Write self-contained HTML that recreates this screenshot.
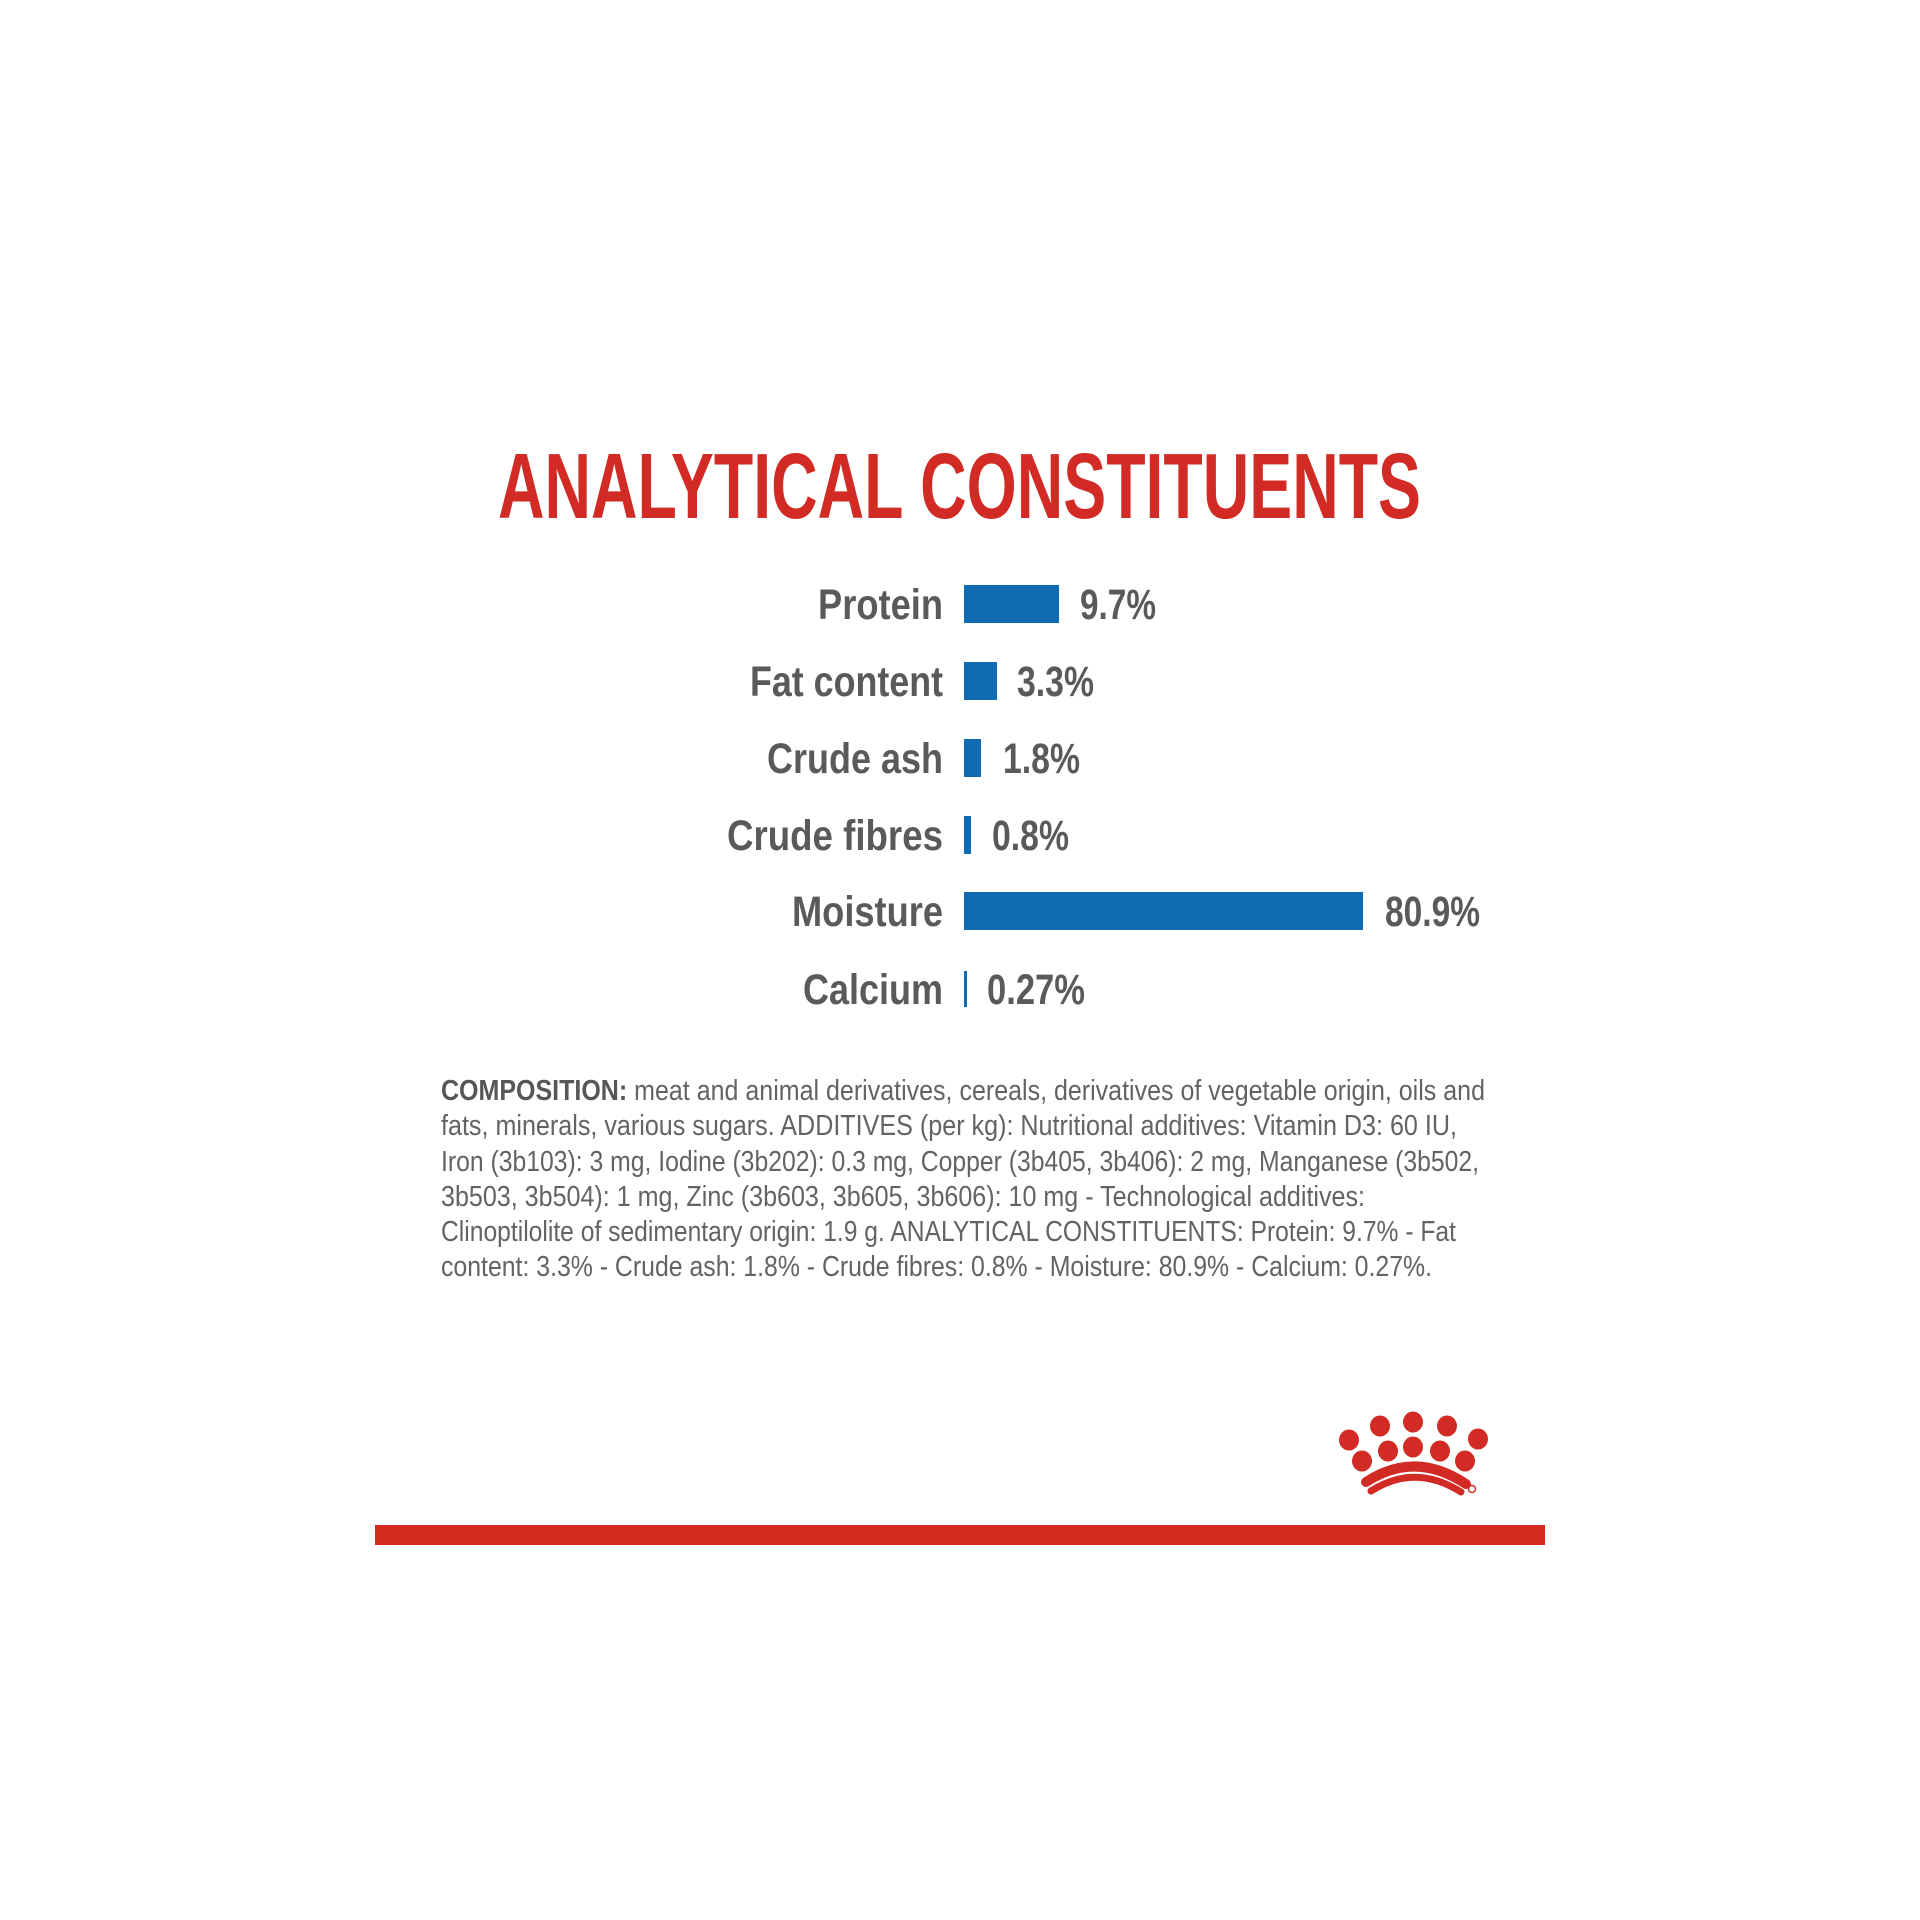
<!DOCTYPE html>
<html>
<head>
<meta charset="utf-8">
<style>
  html, body { margin: 0; padding: 0; background: #ffffff; }
  body { width: 1920px; height: 1920px; overflow: hidden; }
  svg { display: block; }
  .lbl { font-family: "Liberation Sans", sans-serif; font-weight: bold; font-size: 43px; fill: #5a5a5a; }
  .para { font-family: "Liberation Sans", sans-serif; font-size: 29px; fill: #636363; }
</style>
</head>
<body>
<svg width="1920" height="1920" viewBox="0 0 1920 1920" xmlns="http://www.w3.org/2000/svg">
  <rect width="1920" height="1920" fill="#ffffff"/>

  <!-- Title -->
  <text x="498" y="518" textLength="923" lengthAdjust="spacingAndGlyphs"
        style="font-family:'Liberation Sans',sans-serif;font-weight:bold;font-size:93px;fill:#d22b25;">ANALYTICAL CONSTITUENTS</text>

  <!-- Protein -->
  <text class="lbl" x="943" y="619" text-anchor="end" textLength="125" lengthAdjust="spacingAndGlyphs">Protein</text>
  <rect x="964" y="585" width="95" height="38" fill="#0f6cb3"/>
  <text class="lbl" x="1080" y="619" textLength="76" lengthAdjust="spacingAndGlyphs">9.7%</text>

  <!-- Fat content -->
  <text class="lbl" x="943" y="696" text-anchor="end" textLength="193" lengthAdjust="spacingAndGlyphs">Fat content</text>
  <rect x="964" y="662" width="33" height="38" fill="#0f6cb3"/>
  <text class="lbl" x="1017" y="696" textLength="77" lengthAdjust="spacingAndGlyphs">3.3%</text>

  <!-- Crude ash -->
  <text class="lbl" x="943" y="773" text-anchor="end" textLength="176" lengthAdjust="spacingAndGlyphs">Crude ash</text>
  <rect x="964" y="739" width="17" height="38" fill="#0f6cb3"/>
  <text class="lbl" x="1003" y="773" textLength="77" lengthAdjust="spacingAndGlyphs">1.8%</text>

  <!-- Crude fibres -->
  <text class="lbl" x="943" y="850" text-anchor="end" textLength="216" lengthAdjust="spacingAndGlyphs">Crude fibres</text>
  <rect x="964" y="816" width="7" height="38" fill="#0f6cb3"/>
  <text class="lbl" x="992" y="850" textLength="77" lengthAdjust="spacingAndGlyphs">0.8%</text>

  <!-- Moisture -->
  <text class="lbl" x="943" y="926" text-anchor="end" textLength="151" lengthAdjust="spacingAndGlyphs">Moisture</text>
  <rect x="964" y="892" width="399" height="38" fill="#0f6cb3"/>
  <text class="lbl" x="1385" y="926" textLength="95" lengthAdjust="spacingAndGlyphs">80.9%</text>

  <!-- Calcium -->
  <text class="lbl" x="943" y="1004" text-anchor="end" textLength="140" lengthAdjust="spacingAndGlyphs">Calcium</text>
  <rect x="964" y="971" width="3" height="36" fill="#0f6cb3"/>
  <text class="lbl" x="987" y="1004" textLength="98" lengthAdjust="spacingAndGlyphs">0.27%</text>

  <!-- Composition paragraph -->
  <text class="para" x="441" y="1100" textLength="1044" lengthAdjust="spacingAndGlyphs"><tspan style="font-weight:bold;fill:#575757;">COMPOSITION:</tspan> meat and animal derivatives, cereals, derivatives of vegetable origin, oils and</text>
  <text class="para" x="441" y="1135" textLength="1016" lengthAdjust="spacingAndGlyphs">fats, minerals, various sugars. ADDITIVES (per kg): Nutritional additives: Vitamin D3: 60 IU,</text>
  <text class="para" x="441" y="1171" textLength="1038" lengthAdjust="spacingAndGlyphs">Iron (3b103): 3 mg, Iodine (3b202): 0.3 mg, Copper (3b405, 3b406): 2 mg, Manganese (3b502,</text>
  <text class="para" x="441" y="1206" textLength="924" lengthAdjust="spacingAndGlyphs">3b503, 3b504): 1 mg, Zinc (3b603, 3b605, 3b606): 10 mg - Technological additives:</text>
  <text class="para" x="441" y="1241" textLength="1015" lengthAdjust="spacingAndGlyphs">Clinoptilolite of sedimentary origin: 1.9 g. ANALYTICAL CONSTITUENTS: Protein: 9.7% - Fat</text>
  <text class="para" x="441" y="1276" textLength="991" lengthAdjust="spacingAndGlyphs">content: 3.3% - Crude ash: 1.8% - Crude fibres: 0.8% - Moisture: 80.9% - Calcium: 0.27%.</text>

  <!-- Crown logo -->
  <g fill="#d22b25">
    <ellipse cx="1349" cy="1440" rx="10" ry="10.5"/>
    <ellipse cx="1380" cy="1426" rx="10" ry="10.5"/>
    <ellipse cx="1413" cy="1422" rx="10" ry="10.5"/>
    <ellipse cx="1447" cy="1426" rx="10" ry="10.5"/>
    <ellipse cx="1478" cy="1439" rx="10" ry="10.5"/>
    <ellipse cx="1362" cy="1461" rx="10" ry="10.5"/>
    <ellipse cx="1388" cy="1451" rx="10" ry="10.5"/>
    <ellipse cx="1413" cy="1447" rx="10" ry="10.5"/>
    <ellipse cx="1440" cy="1451" rx="10" ry="10.5"/>
    <ellipse cx="1465" cy="1461" rx="10" ry="10.5"/>
  </g>
  <path d="M1366 1482 Q1415 1450 1466 1484" fill="none" stroke="#d22b25" stroke-width="10" stroke-linecap="round"/>
  <path d="M1371 1491 Q1415 1463 1461 1492" fill="none" stroke="#d22b25" stroke-width="7" stroke-linecap="round"/>
  <circle cx="1472" cy="1489" r="3.5" fill="none" stroke="#d22b25" stroke-width="1.5"/>

  <!-- Bottom red rule -->
  <rect x="375" y="1525" width="1170" height="20" fill="#d42a20"/>
</svg>
</body>
</html>
